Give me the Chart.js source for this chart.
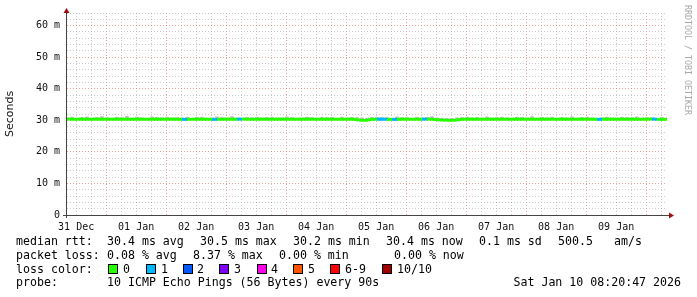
<!DOCTYPE html>
<html>
<head>
<meta charset="utf-8">
<script src="https://cdn.jsdelivr.net/npm/chart.js@4.4.1/dist/chart.umd.min.js"></script>
<style>
html,body{margin:0;padding:0;background:#fff;}
canvas{display:block;}
</style>
</head>
<body>
<canvas id="c" width="697" height="297" style="width:697px;height:297px"></canvas>
<script>
// ---- DATA ----
// time axis in hours since 31 Dec 00:00; graph ends Sat Jan 10 08:20:47
const tStart = 8.3464;            // 31 Dec 08:20:47
const tEnd = 248.3464;            // 10 Jan 08:20:47
const stepHours = 2;              // one median sample every 2 hours
const dayLabels = ['31 Dec','01 Jan','02 Jan','03 Jan','04 Jan','05 Jan','06 Jan','07 Jan','08 Jan','09 Jan'];
const yTickValues = [0,2,4,6,8,10,12,14,16,18,20,22,24,26,28,30,32,34,36,38,40,42,44,46,48,50,52,54,56,58,60,62,64];

// median rtt in ms
const medianRtt = [
30.4,30.3,30.3,30.4,30.3,30.3,30.4,30.3,30.3,30.3,
30.4,30.3,30.3,30.3,30.4,30.3,30.3,30.3,30.4,30.3,
30.3,30.4,30.3,30.3,30.3,30.3,30.4,30.3,30.3,30.3,
30.3,30.3,30.4,30.3,30.3,30.4,30.3,30.3,30.3,30.4,
30.3,30.3,30.3,30.4,30.3,30.3,30.3,30.3,30.4,30.3,
30.3,30.3,30.4,30.3,30.3,30.3,30.3,30.4,30.2,30.0,
30.0,30.3,30.3,30.4,30.3,30.3,30.3,30.4,30.3,30.3,
30.3,30.3,30.4,30.3,30.2,30.1,30.0,30.0,30.1,30.3,
30.3,30.4,30.3,30.3,30.3,30.4,30.3,30.3,30.3,30.3,
30.4,30.3,30.3,30.3,30.3,30.4,30.3,30.3,30.3,30.4,
30.3,30.3,30.3,30.4,30.3,30.3,30.3,30.3,30.4,30.3,
30.3,30.3,30.3,30.4,30.3,30.3,30.3,30.4,30.3,30.3,
30.3];

// max rtt (upper edge of the smoke) in ms
const smokeHigh = [
30.9,31.1,30.7,31.0,31.2,30.8,31.0,31.3,30.9,30.7,
31.1,31.0,31.4,30.8,31.1,30.9,30.7,31.2,31.0,30.9,
31.1,30.8,31.0,30.9,31.1,30.7,31.0,31.1,30.8,30.9,
31.2,31.0,30.8,31.3,30.9,30.7,31.0,30.9,31.1,30.8,
31.0,31.1,30.9,30.7,31.2,31.0,30.8,30.9,31.1,31.0,
30.8,31.1,30.9,31.0,30.7,31.1,30.9,31.0,31.0,30.9,
30.8,31.0,31.1,30.9,31.0,30.8,31.2,30.9,31.0,30.7,
31.1,30.9,31.0,31.3,30.9,30.8,30.7,30.7,30.9,31.0,
31.1,30.8,31.0,30.9,31.2,30.7,31.0,31.1,30.9,30.8,
31.1,31.0,30.9,31.3,30.8,31.0,30.9,31.1,30.7,31.0,
30.9,31.2,30.8,31.0,31.1,30.9,30.7,31.0,31.1,30.9,
30.8,31.1,31.0,30.9,31.2,30.8,31.0,30.9,30.7,31.0,
30.8];

// lost pings (out of 10) per sample
const lossCount = [
0,0,0,0,0,0,0,0,0,0, 0,0,0,0,0,0,0,0,0,0,
0,0,0,1,0,0,0,0,0,1, 0,0,0,0,1,0,0,0,0,0,
0,0,0,0,0,0,0,0,0,0, 0,0,0,0,0,0,0,0,0,0,
0,0,1,1,0,1,0,0,0,0, 0,1,0,0,0,0,0,0,0,0,
0,0,0,0,0,0,0,0,0,0, 0,0,0,0,0,0,0,0,0,0,
0,0,0,0,0,0,1,0,0,0, 0,0,0,0,0,0,0,1,0,0,
0];

const lossLabels = ['0','1','2','3','4','5','6-9','10/10'];
const lossColors = ['#26ff00','#00b8ff','#0059ff','#7e00ff','#ff00ea','#ff5500','#ff0000','#a10000'];

const legendRow1 = [['median rtt:',16],['30.4 ms avg',107],['30.5 ms max',200],['30.2 ms min',293],['30.4 ms now',386],['0.1 ms sd',479],['500.5',558],['am/s',614]];
const legendRow2 = [['packet loss:',16],['0.08 % avg',107],['8.37 % max',193],['0.00 % min',279],['0.00 % now',394]];
const lossBoxX = [108,146,183,219,257,293,330,382];
const lossTextX = [123,161,197,234,271,308,345,397];
const probeText = '10 ICMP Echo Pings (56 Bytes) every 90s';
const dateText = 'Sat Jan 10 08:20:47 2026';

// ---- BUILD ----
function colorForLoss(n){
  if (n <= 5) return lossColors[n];
  if (n < 10) return lossColors[6];
  return lossColors[7];
}
const linePoints = medianRtt.map((v,i)=>({x: tStart + i*stepHours, y: v}));
const smokeBars = medianRtt.map((v,i)=>({x: tStart + i*stepHours, y: [v, smokeHigh[i]]}));

const MONO = '"DejaVu Sans Mono", monospace';

const decorPlugin = {
  id: 'decor',
  afterDraw(chart){
    const ctx = chart.ctx;
    const ca = chart.chartArea;
    ctx.save();
    // axes
    ctx.fillStyle = '#444';
    ctx.fillRect(Math.round(ca.left)-1, 11, 1, Math.round(ca.bottom)+3-11);
    ctx.fillRect(Math.round(ca.left)-4, Math.round(ca.bottom), Math.round(ca.right)-Math.round(ca.left)+8, 1);
    // arrows
    ctx.fillStyle = '#a01010';
    const ax = Math.round(ca.left)-0.5;
    ctx.beginPath(); ctx.moveTo(ax-3, 13); ctx.lineTo(ax+3, 13); ctx.lineTo(ax, 8); ctx.closePath(); ctx.fill();
    const ay = Math.round(ca.bottom)+0.5;
    const ex = Math.round(ca.right)+2;
    ctx.beginPath(); ctx.moveTo(ex, ay-3); ctx.lineTo(ex, ay+3); ctx.lineTo(ex+5, ay); ctx.closePath(); ctx.fill();

    // watermark
    ctx.save();
    ctx.translate(684, 5);
    ctx.rotate(Math.PI/2);
    ctx.font = '8.3px ' + MONO;
    ctx.fillStyle = '#a8a8a8';
    ctx.textBaseline = 'middle';
    ctx.fillText('RRDTOOL / TOBI OETIKER', 0, -3);
    ctx.restore();

    // legend text
    ctx.font = '11.6px ' + MONO;
    ctx.fillStyle = '#000';
    ctx.textBaseline = 'alphabetic';
    ctx.textAlign = 'left';
    legendRow1.forEach(([t,x])=>ctx.fillText(t, x, 245));
    legendRow2.forEach(([t,x])=>ctx.fillText(t, x, 259));
    ctx.fillText('loss color:', 16, 272.5);
    lossLabels.forEach((lab,i)=>{
      ctx.fillStyle = '#000';
      ctx.fillRect(lossBoxX[i], 264, 10, 10);
      ctx.fillStyle = lossColors[i];
      ctx.fillRect(lossBoxX[i]+1, 265, 8, 8);
      ctx.fillStyle = '#000';
      ctx.fillText(lab, lossTextX[i], 272.5);
    });
    ctx.fillText('probe:', 16, 286);
    ctx.fillText(probeText, 107, 286);
    ctx.textAlign = 'right';
    ctx.fillText(dateText, 681, 286);
    ctx.restore();
  }
};

const MAJOR = 'rgba(225,110,110,0.65)';
const MINOR = 'rgba(170,170,170,0.6)';

new Chart(document.getElementById('c').getContext('2d'), {
  type: 'line',
  data: {
    datasets: [
      {
        type: 'bar',
        data: smokeBars,
        backgroundColor: '#bcbcbc',
        borderWidth: 0,
        barPercentage: 0.7,
        categoryPercentage: 1,
        grouped: false,
        order: 2
      },
      {
        type: 'line',
        data: linePoints,
        borderColor: lossColors[0],
        borderWidth: 3,
        borderCapStyle: 'butt',
        borderJoinStyle: 'miter',
        pointRadius: 0,
        tension: 0,
        fill: false,
        segment: { borderColor: c => colorForLoss(lossCount[c.p0DataIndex]) },
        order: 1
      }
    ]
  },
  options: {
    responsive: false,
    animation: false,
    devicePixelRatio: 1,
    layout: { padding: { left: 0, top: 13, right: 30, bottom: 0 } },
    plugins: { legend: { display: false }, tooltip: { enabled: false } },
    scales: {
      x: {
        type: 'linear',
        min: tStart,
        max: tEnd,
        offset: false,
        afterFit(s){ s.height = 82; },
        afterBuildTicks(s){
          const t = [];
          for (let h = Math.ceil(tStart/6)*6; h < tEnd; h += 6) t.push({value: h});
          s.ticks = t;
        },
        grid: {
          offset: false,
          drawTicks: false,
          lineWidth: 1,
          color: c => (c.tick && c.tick.value % 24 === 0) ? MAJOR : MINOR
        },
        border: { display: false, dash: [1,2] },
        ticks: {
          autoSkip: false,
          maxRotation: 0,
          padding: 6,
          color: '#111',
          font: { family: MONO, size: 10 },
          callback: v => (v % 24 === 12) ? dayLabels[(v-12)/24] : ''
        }
      },
      y: {
        min: 0,
        max: 64,
        afterFit(s){ s.width = 67; },
        afterBuildTicks(s){ s.ticks = yTickValues.map(v=>({value:v})); },
        grid: {
          drawTicks: false,
          lineWidth: 1,
          color: c => (c.tick && c.tick.value % 10 === 0) ? MAJOR : MINOR
        },
        border: { display: false, dash: [1,2] },
        title: {
          display: true,
          text: 'Seconds',
          color: '#111',
          font: { family: '"DejaVu Sans", sans-serif', size: 11 },
          padding: { top: 4, bottom: 0 }
        },
        ticks: {
          autoSkip: false,
          padding: 7,
          color: '#111',
          font: { family: MONO, size: 10 },
          callback: v => (v % 10 === 0) ? (v === 0 ? '0' : v + ' m') : ''
        }
      }
    }
  },
  plugins: [decorPlugin]
});
</script>
</body>
</html>
